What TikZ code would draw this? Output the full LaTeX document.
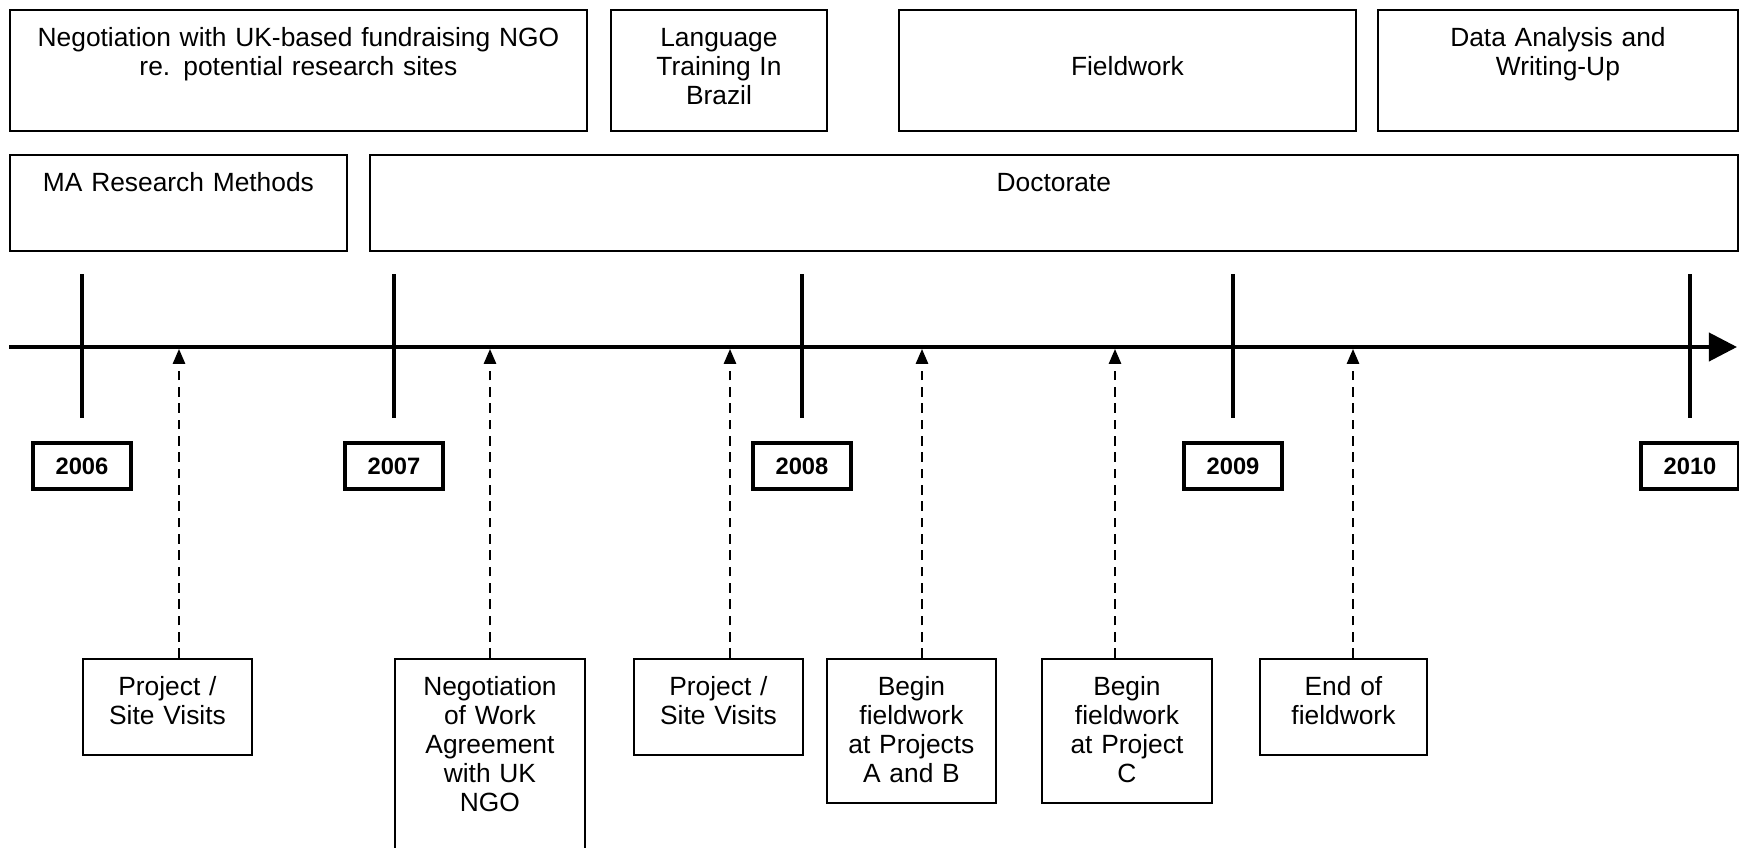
\documentclass[tikz,border=0pt]{standalone}
\usepackage{fontspec}
\setmainfont{Liberation Sans}
\usetikzlibrary{arrows.meta}

\begin{document}
\begin{tikzpicture}[x=0.02cm, y=-0.02cm, font=\fontsize{15}{16.4}\selectfont]
 \tikzstyle{box}=[draw, line width=1.1pt, anchor=north west, align=center, inner xsep=0pt, inner ysep=0pt, text height=21pt]
 \tikzstyle{topbox}=[box, text depth=47.8pt]
 \tikzstyle{midbox}=[box, text depth=33.6pt]
 \tikzstyle{tallbox}=[box, text depth=60.9pt]
 \tikzstyle{year}=[draw, line width=2.6pt, font=\fontsize{13.5}{16}\selectfont\bfseries, minimum width=1.96cm, minimum height=0.92cm, inner sep=0pt]
 \tikzstyle{timeline}=[line width=2.2pt, -{Triangle[length=16pt,width=16pt]}]
 \tikzstyle{yeartick}=[line width=2.2pt]
 \tikzstyle{event}=[line width=1.1pt, dash pattern=on 5.5pt off 3.8pt, -{Triangle[length=8.5pt,width=7pt]}]

\useasboundingbox (0,0) rectangle (1739,848);
\clip (0,0) rectangle (1739,848);

% periods
\node[topbox, text width=11.54cm] (ngo)   at (9,9)    {Negotiation with UK-based fundraising NGO\\re. potential research sites};
\node[topbox, text width=4.32cm]  (lang)  at (610,9)  {Language\\Training In\\Brazil};
\node[topbox, text width=9.14cm]  (field) at (898,9)  {~\\Fieldwork};
\node[topbox, text width=7.2cm]   (write) at (1377,9) {Data Analysis and\\Writing-Up};
\node[midbox, text width=6.74cm]  (ma)    at (9,154)  {MA Research Methods};
\node[midbox, text width=27.36cm] (phd)   at (369,154) {Doctorate};

% time axis
\coordinate (start) at (9,347);
\coordinate (end)   at (1737,347);
\draw[timeline] (start) -- (end);

\draw[yeartick] (82,274) -- (82,418);
\draw[yeartick] (394,274) -- (394,418);
\draw[yeartick] (802,274) -- (802,418);
\draw[yeartick] (1233,274) -- (1233,418);
\draw[yeartick] (1690,274) -- (1690,418);

\node[year] (y2006) at (82,466)   {2006};
\node[year] (y2007) at (394,466)  {2007};
\node[year] (y2008) at (802,466)  {2008};
\node[year] (y2009) at (1233,466) {2009};
\node[year] (y2010) at (1690,466) {2010};

% events
\node[midbox, text width=3.38cm]  (visit1) at (82,658)   {Project /\\Site Visits};
\node[box, text width=3.8cm, text depth=89.4pt] (agree) at (394,658) {Negotiation\\of Work\\Agreement\\with UK\\NGO};
\node[midbox, text width=3.38cm]  (visit2) at (633,658)  {Project /\\Site Visits};
\node[tallbox, text width=3.38cm] (beginab) at (826,658) {Begin\\fieldwork\\at Projects\\A and B};
\node[tallbox, text width=3.4cm]  (beginc) at (1041,658) {Begin\\fieldwork\\at Project\\C};
\node[midbox, text width=3.34cm]  (finish) at (1259,658) {End of\\fieldwork};

\coordinate (p1) at (179,349);
\coordinate (p2) at (490,349);
\coordinate (p3) at (730,349);
\coordinate (p4) at (922,349);
\coordinate (p5) at (1115,349);
\coordinate (p6) at (1353,349);

\draw[event] (visit1.north -| p1)  -- (p1);
\draw[event] (agree.north -| p2)   -- (p2);
\draw[event] (visit2.north -| p3)  -- (p3);
\draw[event] (beginab.north -| p4) -- (p4);
\draw[event] (beginc.north -| p5)  -- (p5);
\draw[event] (finish.north -| p6)  -- (p6);
\end{tikzpicture}
\end{document}
